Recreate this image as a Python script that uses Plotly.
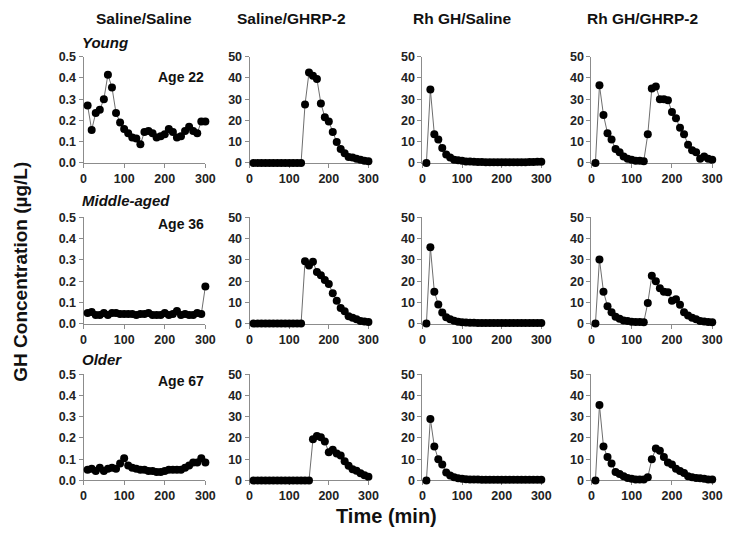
import plotly.graph_objects as go

W, H = 735, 543

time_min = [10, 20, 30, 40, 50, 60, 70, 80, 90, 100, 110, 120, 130, 140, 150,
            160, 170, 180, 190, 200, 210, 220, 230, 240, 250, 260, 270, 280, 290, 300]

col_titles = ["Saline/Saline", "Saline/GHRP-2", "Rh GH/Saline", "Rh GH/GHRP-2"]
row_labels = ["Young", "Middle-aged", "Older"]
age_labels = ["Age 22", "Age 36", "Age 67"]

x_ticks = [0, 100, 200, 300]
saline_ticks = [0.0, 0.1, 0.2, 0.3, 0.4, 0.5]
treat_ticks = [0, 10, 20, 30, 40, 50]

# Young (Age 22)
young_saline_saline = [0.27, 0.155, 0.235, 0.25, 0.30, 0.415, 0.355, 0.235, 0.19, 0.16,
                       0.14, 0.12, 0.115, 0.088, 0.145, 0.15, 0.14, 0.12, 0.125, 0.135,
                       0.16, 0.145, 0.12, 0.125, 0.15, 0.17, 0.15, 0.14, 0.195, 0.195]
young_saline_ghrp2 = [0, 0, 0, 0, 0, 0, 0, 0, 0, 0, 0, 0, 0,
                      27.5, 42.5, 41, 39.5, 28, 21.5, 19.5, 14.5, 9.8, 6.5, 4.5, 2.8,
                      2.5, 2, 1.5, 1, 0.8]
young_rhgh_saline = [0, 34.5, 13.5, 11, 7, 4, 2.5, 1.5, 1.2, 1.0,
                     0.7, 0.6, 0.5, 0.4, 0.4, 0.3, 0.3, 0.3, 0.3, 0.3,
                     0.3, 0.3, 0.3, 0.3, 0.3, 0.3, 0.4, 0.4, 0.5, 0.5]
young_rhgh_ghrp2 = [0, 36.5, 22.5, 14, 11, 6.5, 5, 3, 2, 1.5, 1, 1, 0.8,
                    13.5, 35, 36, 30, 30, 29.5, 24, 21, 16.5, 13.5, 8.5, 6, 5,
                    2, 3, 2, 1.5]

# Middle-aged (Age 36)
middle_saline_saline = [0.05, 0.055, 0.04, 0.04, 0.05, 0.04, 0.05, 0.05, 0.045, 0.045,
                        0.045, 0.045, 0.04, 0.045, 0.045, 0.05, 0.04, 0.04, 0.04, 0.05,
                        0.04, 0.045, 0.06, 0.04, 0.045, 0.04, 0.04, 0.05, 0.045, 0.175]
middle_saline_ghrp2 = [0, 0, 0, 0, 0, 0, 0, 0, 0, 0, 0, 0, 0,
                       29.4, 27.4, 29.1, 24.3, 22.8, 20.5, 18.6, 14.3, 10.8, 7.4, 5.8,
                       3.5, 2.8, 2, 1.2, 1, 0.8]
middle_rhgh_saline = [0, 36, 15, 9, 5.2, 3, 2, 1.3, 0.9, 0.6,
                      0.5, 0.4, 0.4, 0.3, 0.3, 0.3, 0.3, 0.3, 0.3, 0.3,
                      0.3, 0.3, 0.3, 0.3, 0.3, 0.3, 0.3, 0.3, 0.3, 0.3]
middle_rhgh_ghrp2 = [0, 30.2, 15, 8.2, 5.4, 3.2, 2.3, 1.5, 1.2, 0.9, 0.8, 0.8, 0.7,
                     9.7, 22.5, 20, 16.6, 15, 14.8, 10.8, 11.5, 8.9, 5.4, 3.8, 2.8,
                     2, 1.2, 1, 0.8, 0.6]

# Older (Age 67)
older_saline_saline = [0.05, 0.055, 0.045, 0.06, 0.045, 0.055, 0.06, 0.055, 0.08, 0.105,
                       0.07, 0.06, 0.055, 0.05, 0.05, 0.045, 0.045, 0.04, 0.04, 0.045,
                       0.05, 0.05, 0.05, 0.05, 0.06, 0.07, 0.085, 0.085, 0.105, 0.085]
older_saline_ghrp2 = [0, 0, 0, 0, 0, 0, 0, 0, 0, 0, 0, 0, 0, 0, 0,
                      19.4, 20.9, 20.3, 18.3, 13.3, 14.5, 12.7, 11.7, 9.1, 6.9,
                      5.3, 4.6, 3.4, 2.5, 1.8]
older_rhgh_saline = [0, 29, 16, 10, 7.5, 3.8, 2.3, 1.5, 1.1, 0.8,
                     0.6, 0.5, 0.4, 0.4, 0.3, 0.3, 0.3, 0.3, 0.3, 0.3,
                     0.3, 0.3, 0.3, 0.3, 0.3, 0.3, 0.3, 0.3, 0.3, 0.3]
older_rhgh_ghrp2 = [0, 35.5, 16, 11, 8, 4, 3, 2, 1.2, 0.8, 0.5, 0.5, 0.4, 1.5,
                    10, 15, 14, 11, 8.5, 7.5, 5.5, 4.5, 3.5, 2, 1.5, 1.2, 1, 0.8, 0.5, 0.5]

grid = [
    [young_saline_saline, young_saline_ghrp2, young_rhgh_saline, young_rhgh_ghrp2],
    [middle_saline_saline, middle_saline_ghrp2, middle_rhgh_saline, middle_rhgh_ghrp2],
    [older_saline_saline, older_saline_ghrp2, older_rhgh_saline, older_rhgh_ghrp2],
]

# layout in pixels
col_px = [(82, 206), (251, 372), (427, 548), (599, 722)]
row_px = [(51, 160), (216, 325), (377, 486)]

FONT = "Liberation Sans, Arial, sans-serif"
AXIS_GRAY = "#8c8c8c"
TICK_FONT = dict(family=FONT, size=12.5, color="#222222", weight="bold")


def px_x(p):
    return p / W


def px_y(p):
    return 1 - p / H


fig = go.Figure()
layout_axes = {}
for r in range(3):
    for c in range(4):
        i = r * 4 + c + 1
        xa = "x" if i == 1 else f"x{i}"
        ya = "y" if i == 1 else f"y{i}"
        fig.add_trace(go.Scatter(
            x=time_min, y=grid[r][c], xaxis=xa, yaxis=ya,
            mode="lines+markers",
            line=dict(color="#6e6e6e", width=1),
            marker=dict(color="black", size=8),
            cliponaxis=False, showlegend=False, hoverinfo="x+y",
        ))
        xkey = "xaxis" if i == 1 else f"xaxis{i}"
        ykey = "yaxis" if i == 1 else f"yaxis{i}"
        common = dict(showline=True, linecolor=AXIS_GRAY, linewidth=1,
                      ticks="outside", ticklen=4, tickcolor=AXIS_GRAY, tickwidth=1,
                      showgrid=False, zeroline=False, tickfont=TICK_FONT,
                      layer="below traces", fixedrange=True)
        layout_axes[xkey] = dict(
            domain=[px_x(col_px[c][0]), px_x(col_px[c][1])],
            anchor=ya, range=[0, 300], tickmode="array", tickvals=x_ticks,
            **common)
        if c == 0:
            yt = saline_ticks
            yr = [0, 0.5]
            fmt = ".1f"
        else:
            yt = treat_ticks
            yr = [0, 50]
            fmt = "d"
        layout_axes[ykey] = dict(
            domain=[px_y(row_px[r][1]), px_y(row_px[r][0])],
            anchor=xa, range=yr, tickmode="array", tickvals=yt, tickformat=fmt,
            **common)

annotations = []
title_cx = [144, 294, 468, 651]
for c, t in enumerate(col_titles):
    annotations.append(dict(text=t, x=px_x(title_cx[c]), y=px_y(12), xref="paper", yref="paper",
                            xanchor="center", yanchor="middle", showarrow=False,
                            font=dict(family=FONT, size=15.5, color="#111", weight="bold")))
row_label_y = [36, 199, 362]
for r, t in enumerate(row_labels):
    annotations.append(dict(text=t, x=px_x(78), y=px_y(row_label_y[r]), xref="paper", yref="paper",
                            xanchor="left", yanchor="middle", showarrow=False,
                            font=dict(family=FONT, size=15, color="#111", weight="bold",
                                      style="italic")))
age_y = [72, 223, 384]
for r, t in enumerate(age_labels):
    annotations.append(dict(text=t, x=px_x(156), y=px_y(age_y[r]), xref="paper", yref="paper",
                            xanchor="left", yanchor="middle", showarrow=False,
                            font=dict(family=FONT, size=14, color="#111", weight="bold")))
annotations.append(dict(text="Time (min)", x=px_x(390), y=px_y(522), xref="paper", yref="paper",
                        xanchor="center", yanchor="middle", showarrow=False,
                        font=dict(family=FONT, size=20, color="#111", weight="bold")))
annotations.append(dict(text="GH Concentration (µg/L)", x=px_x(18), y=px_y(272),
                        xref="paper", yref="paper", textangle=-90,
                        xanchor="center", yanchor="middle", showarrow=False,
                        font=dict(family=FONT, size=19, color="#111", weight="bold")))

fig.update_layout(
    width=W, height=H, autosize=False,
    margin=dict(l=0, r=0, t=0, b=0),
    paper_bgcolor="white", plot_bgcolor="white",
    annotations=annotations,
    **layout_axes,
)

fig.write_html(
    "out.html",
    config={"responsive": False, "displayModeBar": False},
    post_script="document.body.style.margin='0';document.body.style.padding='0';",
)
